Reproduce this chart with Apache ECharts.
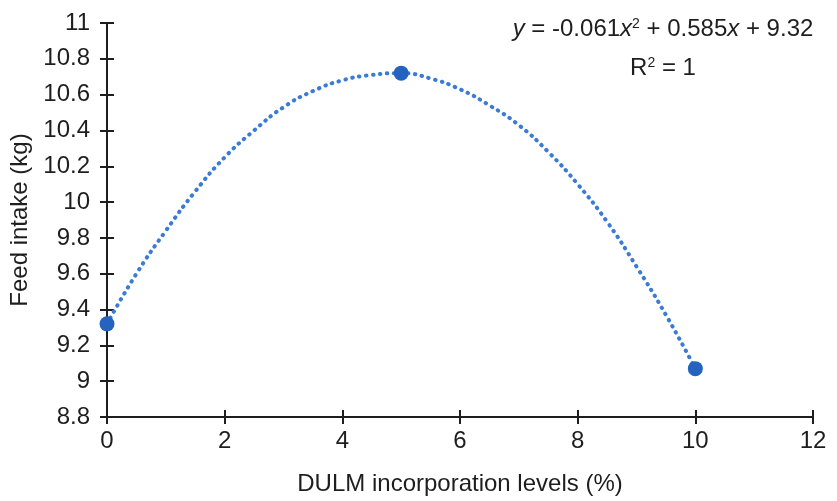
<!DOCTYPE html>
<html>
<head>
<meta charset="utf-8">
<script src="https://cdn.jsdelivr.net/npm/echarts@6/dist/echarts.min.js"></script>
<style>
  html, body { margin: 0; padding: 0; background: #fff; }
  #chart { width: 837px; height: 501px; }
</style>
</head>
<body>
<div id="chart"></div>
<script>
// observed points
const levels = [0, 5, 10];
const intake = [9.32, 10.72, 9.07];

// dotted trendline, values
const trendX = [0, 0.5, 1, 1.5, 2, 2.5, 3, 3.5, 4, 4.5, 5, 5.5, 6, 6.5, 7, 7.5, 8, 8.5, 9, 9.5, 10];
const trendY = [9.32, 9.6, 9.84, 10.06, 10.25, 10.4, 10.53, 10.62, 10.68, 10.71, 10.72,
  10.69, 10.63, 10.54, 10.43, 10.28, 10.1, 9.89, 9.64, 9.37, 9.07];

const font = "Liberation Sans, Arial, sans-serif";
const black = "#1e1e1e";
const fs = 24;

const chart = echarts.init(document.getElementById("chart"));

const baseX = {
  type: "value",
  min: 0,
  max: 12,
  interval: 2,
  splitLine: { show: false },
  axisLine: { onZero: false, lineStyle: { color: black, width: 2 } },
};
const baseY = {
  type: "value",
  min: 8.8,
  max: 11,
  interval: 0.2,
  splitLine: { show: false },
  axisLine: { onZero: false, lineStyle: { color: black, width: 2 } },
};

const option = {
  animation: false,
  backgroundColor: "#fff",
  grid: { left: 107, top: 23, right: 24, bottom: 82 },
  xAxis: [
    {
      ...baseX,
      name: "DULM incorporation levels (%)",
      nameLocation: "middle",
      nameGap: 55,
      nameTextStyle: { fontFamily: font, fontSize: fs, color: black },
      axisTick: { show: true, length: 7, lineStyle: { color: black, width: 2 } },
      axisLabel: { fontFamily: font, fontSize: fs, color: black, margin: 12 },
    },
    {
      ...baseX,
      position: "bottom",
      axisTick: { show: true, inside: true, length: 7, lineStyle: { color: black, width: 2 } },
      axisLabel: { show: false },
    },
  ],
  yAxis: [
    {
      ...baseY,
      name: "Feed intake (kg)",
      nameLocation: "middle",
      nameGap: 67,
      nameTextStyle: { fontFamily: font, fontSize: fs, color: black },
      axisTick: { show: true, length: 7, lineStyle: { color: black, width: 2 } },
      axisLabel: {
        fontFamily: font,
        fontSize: fs,
        color: black,
        margin: 17,
        formatter: (v) => String(Math.round(v * 10) / 10),
      },
    },
    {
      ...baseY,
      position: "left",
      axisTick: { show: true, inside: true, length: 7, lineStyle: { color: black, width: 2 } },
      axisLabel: { show: false },
    },
  ],
  graphic: [
    {
      type: "text",
      x: 663,
      y: 29,
      style: {
        text: "{i|y} = -0.061{i|x}{s|2} + 0.585{i|x} + 9.32",
        align: "center",
        verticalAlign: "middle",
        fontFamily: font,
        fontSize: fs,
        fill: black,
        rich: {
          i: { fontStyle: "italic", fontFamily: font, fontSize: fs, fill: black },
          s: { fontSize: 14, fontFamily: font, padding: [0, 0, 10, 0], fill: black },
        },
      },
    },
    {
      type: "text",
      x: 663,
      y: 68,
      style: {
        text: "R{s|2} = 1",
        align: "center",
        verticalAlign: "middle",
        fontFamily: font,
        fontSize: fs,
        fill: black,
        rich: {
          s: { fontSize: 14, fontFamily: font, padding: [0, 0, 10, 0], fill: black },
        },
      },
    },
  ],
  series: [
    {
      name: "Trend",
      type: "line",
      data: trendX.map((x, i) => [x, trendY[i]]),
      smooth: true,
      showSymbol: false,
      lineStyle: { color: "#3a7bd5", width: 4, type: [0.5, 6.5], cap: "round" },
      z: 2,
    },
    {
      name: "Feed intake",
      type: "scatter",
      data: levels.map((x, i) => [x, intake[i]]),
      symbolSize: 15,
      itemStyle: { color: "#2463c0", opacity: 1 },
      z: 3,
    },
  ],
};

chart.setOption(option);
</script>
</body>
</html>
